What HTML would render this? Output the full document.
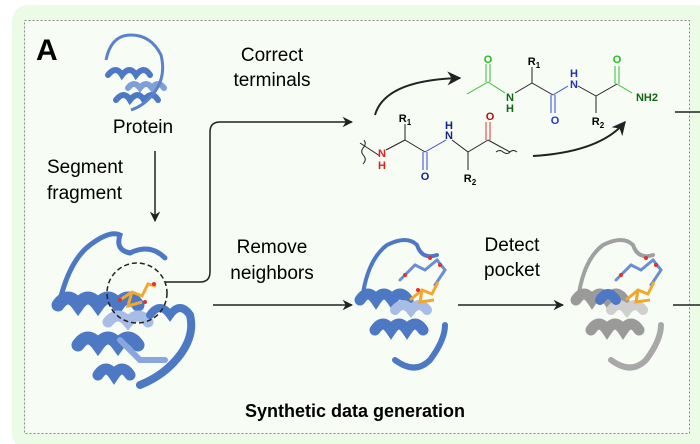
<!DOCTYPE html>
<html><head><meta charset="utf-8"><style>
html,body{margin:0;padding:0;background:#fff;}
svg{display:block;font-family:"Liberation Sans",Arial,sans-serif;}
</style></head><body>
<svg width="700" height="444" viewBox="0 0 700 444" xmlns="http://www.w3.org/2000/svg">
<defs>
<marker id="ah" viewBox="0 0 10 10" refX="9" refY="5" markerWidth="7" markerHeight="7" orient="auto"><path d="M0,0 L10,5 L0,10 L3,5 z" fill="#222"/></marker>
</defs>
<rect x="12" y="5" width="700" height="445" rx="16" fill="#ecfbe6"/>
<rect x="24.5" y="20.5" width="665" height="413" fill="#f7fcf4" stroke="#888" stroke-dasharray="2,2"/>
<text x="36" y="60" font-size="30" font-weight="bold" font-family="Liberation Sans Narrow,Liberation Sans,sans-serif">A</text>

<!-- small protein -->
<g fill="none" stroke="#4d78c4" stroke-width="6" stroke-linecap="round">
<path d="M108,75 q8,-10 14,0 q8,-10 14,0 q8,-10 14,0" />
<path d="M128,88 q6,-8 12,0 q6,-8 12,0 q6,-8 12,0" stroke="#7f9fd8"/>
<path d="M116,100 q8,-10 14,0 q8,-10 14,0 q8,-10 14,0" />
</g>
<path d="M106,60 q5,-25 25,-25 q20,0 30,20 q5,20 -5,35 q-10,15 -25,20" fill="none" stroke="#5a82cc" stroke-width="3"/>
<text x="143" y="133" font-size="19" text-anchor="middle">Protein</text>

<text x="47" y="173" font-size="19">Segment</text>
<text x="47" y="199" font-size="19">fragment</text>
<line x1="155" y1="151" x2="155" y2="221" stroke="#222" stroke-width="1.5" marker-end="url(#ah)"/>

<!-- big protein -->
<g fill="none" stroke-linecap="round">
<path d="M60,300 q10,-40 30,-55 q20,-15 30,-10 q-5,15 10,18 q20,-10 35,5" stroke="#4d78c4" stroke-width="5"/>
<path d="M58,305 q10,-14 20,0 q10,-14 20,0 q10,-14 20,0 q10,-14 20,0" stroke="#4d78c4" stroke-width="13"/>
<path d="M78,345 q10,-14 20,0 q10,-14 20,0 q10,-14 20,0" stroke="#4d78c4" stroke-width="13"/>
<path d="M98,375 q8,-12 16,0 q8,-12 16,0" stroke="#4d78c4" stroke-width="11"/>
<path d="M108,322 q10,-12 20,0 q10,-12 20,0" stroke="#a8bde6" stroke-width="11"/>
<path d="M150,315 q10,-14 20,0 q10,-14 20,0 q5,20 -10,40 q-15,20 -40,30" stroke="#4d78c4" stroke-width="8"/>
<path d="M120,340 l20,20 l25,0" stroke="#8aa6de" stroke-width="6"/>
</g>
<g stroke="#f0a830" stroke-width="3" fill="none"><path d="M120,300 l12,-8 l10,4 l6,-12 l8,2 M132,292 l-4,14 l14,-4"/></g>
<g fill="#e03030"><circle cx="120" cy="300" r="2"/><circle cx="145" cy="302" r="2"/><circle cx="154" cy="284" r="2"/></g>
<circle cx="137" cy="293" r="30" fill="none" stroke="#222" stroke-width="1.5" stroke-dasharray="5,3"/>

<!-- top connector -->
<path d="M165,282 H200 Q210,282 210,272 V132 Q210,122 220,122 H352" fill="none" stroke="#222" stroke-width="1.5" marker-end="url(#ah)"/>
<text x="272" y="61" font-size="19" text-anchor="middle">Correct</text>
<text x="272" y="86" font-size="19" text-anchor="middle">terminals</text>
<text x="272" y="253" font-size="19" text-anchor="middle">Remove</text>
<text x="272" y="279" font-size="19" text-anchor="middle">neighbors</text>
<line x1="213" y1="305" x2="352" y2="305" stroke="#222" stroke-width="1.5" marker-end="url(#ah)"/>

<!-- chemistry lower -->
<g font-size="11" font-weight="bold" text-anchor="middle">
<path d="M364,140 q3,4 -1,8 q-3,4 1,8 q3,4 -1,8" fill="none" stroke="#222"/>
<line x1="360" y1="143" x2="380" y2="156" stroke="#222"/>
<line x1="386" y1="150" x2="405" y2="140" stroke="#222"/>
<line x1="405" y1="140" x2="405" y2="124" stroke="#222"/>
<line x1="405" y1="140" x2="425" y2="152" stroke="#222"/>
<line x1="425" y1="152" x2="446" y2="140" stroke="#3344dd"/>
<line x1="423" y1="152" x2="423" y2="170" stroke="#3344dd"/><line x1="427" y1="152" x2="427" y2="170" stroke="#3344dd"/>
<line x1="452" y1="140" x2="468" y2="152" stroke="#222"/>
<line x1="468" y1="152" x2="468" y2="170" stroke="#222"/>
<line x1="468" y1="152" x2="488" y2="140" stroke="#222"/>
<line x1="486" y1="140" x2="486" y2="122" stroke="#e03030"/><line x1="490" y1="140" x2="490" y2="122" stroke="#e03030"/>
<line x1="488" y1="140" x2="510" y2="152" stroke="#222"/>
<path d="M496,152 q4,-3 7,0 q4,3 7,0 q3,-3 7,0" fill="none" stroke="#222"/>
<text x="382" y="157" fill="#e02020">N</text><text x="382" y="169" fill="#e02020">H</text>
<text x="405" y="122">R<tspan font-size="8" dy="3">1</tspan></text>
<text x="425" y="180" fill="#112288">O</text>
<text x="449" y="139" fill="#112288">N</text><text x="449" y="129" fill="#112288">H</text>
<text x="470" y="182">R<tspan font-size="8" dy="3">2</tspan></text>
<text x="490" y="120" fill="#b01010">O</text>
</g>
<path d="M375,115 Q385,80 460,78" fill="none" stroke="#222" stroke-width="2" marker-end="url(#ah)"/>
<path d="M533,156 Q600,152 625,122" fill="none" stroke="#222" stroke-width="2" marker-end="url(#ah)"/>

<!-- chemistry upper -->
<g font-size="11" font-weight="bold" text-anchor="middle">
<line x1="467" y1="94" x2="488" y2="82" stroke="#33bb33"/>
<line x1="486" y1="82" x2="486" y2="64" stroke="#33bb33"/><line x1="490" y1="82" x2="490" y2="64" stroke="#33bb33"/>
<line x1="488" y1="82" x2="505" y2="93" stroke="#33bb33"/>
<line x1="515" y1="93" x2="532" y2="83" stroke="#222"/>
<line x1="532" y1="83" x2="532" y2="67" stroke="#222"/>
<line x1="532" y1="83" x2="553" y2="95" stroke="#222"/>
<line x1="553" y1="95" x2="568" y2="86" stroke="#3344dd"/>
<line x1="551" y1="95" x2="551" y2="113" stroke="#3344dd"/><line x1="555" y1="95" x2="555" y2="113" stroke="#3344dd"/>
<line x1="578" y1="86" x2="596" y2="96" stroke="#222"/>
<line x1="596" y1="96" x2="596" y2="113" stroke="#222"/>
<line x1="596" y1="96" x2="617" y2="84" stroke="#222"/>
<line x1="615" y1="84" x2="615" y2="66" stroke="#33bb33"/><line x1="619" y1="84" x2="619" y2="66" stroke="#33bb33"/>
<line x1="617" y1="84" x2="632" y2="93" stroke="#33bb33"/>
<text x="488" y="63" fill="#22bb22">O</text>
<text x="510" y="101" fill="#116611">N</text><text x="510" y="112" fill="#116611">H</text>
<text x="534" y="65">R<tspan font-size="8" dy="3">1</tspan></text>
<text x="555" y="124" fill="#2233dd">O</text>
<text x="574" y="88" fill="#2233aa">N</text><text x="574" y="77" fill="#2233aa">H</text>
<text x="598" y="125">R<tspan font-size="8" dy="3">2</tspan></text>
<text x="617" y="63" fill="#22bb22">O</text>
<text x="647" y="101" fill="#116611">NH2</text>
</g>
<line x1="675" y1="112" x2="700" y2="112" stroke="#222" stroke-width="1.5"/>

<!-- protein 2 -->
<g fill="none" stroke-linecap="round">
<path d="M362,300 q5,-40 25,-55 q20,-10 30,0 q5,15 20,10" stroke="#4d78c4" stroke-width="4"/>
<path d="M360,300 q8,-12 16,0 q8,-12 16,0 q8,-12 16,0" stroke="#4d78c4" stroke-width="11"/>
<path d="M375,330 q8,-12 16,0 q8,-12 16,0 q8,-12 16,0" stroke="#4d78c4" stroke-width="11"/>
<path d="M395,310 q8,-10 16,0 q8,-10 16,0" stroke="#a8bde6" stroke-width="10"/>
<path d="M395,360 q20,15 35,0 q15,-20 15,-35" stroke="#4d78c4" stroke-width="6"/>
<path d="M400,280 l15,-15 l10,5 l12,-10 l8,10 l-10,15" stroke="#6a8ed4" stroke-width="3"/>
</g>
<g stroke="#f0a830" stroke-width="3" fill="none"><path d="M410,300 l12,-10 l10,4 l6,-12 M422,290 l-2,12 l14,-2"/></g>
<g fill="#e03030"><circle cx="405" cy="275" r="2"/><circle cx="430" cy="258" r="2"/><circle cx="440" cy="265" r="2"/><circle cx="418" cy="290" r="2"/></g>

<text x="512" y="251" font-size="19" text-anchor="middle">Detect</text>
<text x="512" y="276" font-size="19" text-anchor="middle">pocket</text>
<line x1="458" y1="305" x2="563" y2="305" stroke="#222" stroke-width="1.5" marker-end="url(#ah)"/>

<!-- protein 3 -->
<g fill="none" stroke-linecap="round">
<path d="M578,300 q5,-40 25,-55 q20,-10 30,0 q5,15 20,10" stroke="#a0a0a0" stroke-width="4"/>
<path d="M576,300 q8,-12 16,0 q8,-12 16,0 q8,-12 16,0" stroke="#9a9a9a" stroke-width="11"/>
<path d="M591,330 q8,-12 16,0 q8,-12 16,0 q8,-12 16,0" stroke="#9a9a9a" stroke-width="11"/>
<path d="M611,310 q8,-10 16,0 q8,-10 16,0" stroke="#cfcfcf" stroke-width="10"/>
<path d="M611,360 q20,15 35,0 q15,-20 15,-35" stroke="#a8a8a8" stroke-width="6"/>
<path d="M616,280 l15,-15 l10,5 l12,-10 l8,10 l-10,15" stroke="#6a8ed4" stroke-width="3"/>
<path d="M600,300 q8,-12 16,0" stroke="#4d78c4" stroke-width="10"/>
</g>
<g stroke="#f0a830" stroke-width="3" fill="none"><path d="M626,300 l12,-10 l10,4 l6,-12 M638,290 l-2,12 l14,-2"/></g>
<g fill="#e03030"><circle cx="621" cy="275" r="2"/><circle cx="646" cy="258" r="2"/><circle cx="656" cy="265" r="2"/></g>
<line x1="673" y1="305" x2="700" y2="305" stroke="#222" stroke-width="1.5"/>

<text x="355" y="417" font-size="18" font-weight="bold" text-anchor="middle">Synthetic data generation</text>
</svg>
</body></html>
